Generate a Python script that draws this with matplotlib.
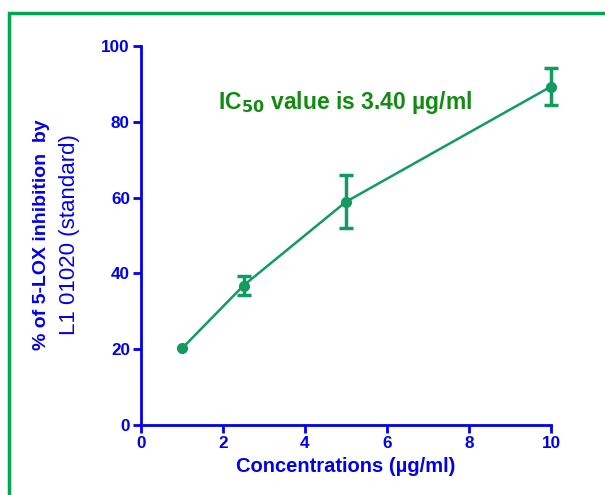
import matplotlib.pyplot as plt
from matplotlib.patches import Rectangle

plt.rcParams['font.family'] = ['Liberation Sans', 'DejaVu Sans']

# Data
conc = [1, 2.5, 5, 10]
inhibition = [20.2, 36.8, 58.9, 89.3]
err = [0, 2.5, 7.0, 4.9]
xticks = [0, 2, 4, 6, 8, 10]
yticks = [0, 20, 40, 60, 80, 100]

blue = '#0000ee'
line_green = '#139a62'
text_green = '#148a14'

fig = plt.figure(figsize=(6.05, 4.95), dpi=100)
fig.patches.append(Rectangle((9 / 605, -0.1), 1.2, 1 - 13 / 495 + 0.1,
                             transform=fig.transFigure, fill=False,
                             edgecolor='#00a651', linewidth=2.5))

ax = fig.add_axes([141 / 605, 70 / 495, 410 / 605, 379 / 495])
ax.plot(conc, inhibition, color=line_green, marker='o', markersize=7,
        linewidth=1.8, clip_on=False, zorder=3)
# error bars only where there is a spread
ex = [c for c, e in zip(conc, err) if e > 0]
ey = [v for v, e in zip(inhibition, err) if e > 0]
ee = [e for e in err if e > 0]
ax.errorbar(ex, ey, yerr=ee, fmt='none', ecolor=line_green, elinewidth=2.5,
            capsize=5, capthick=2.5, clip_on=False, zorder=3)

ax.set_xlim(0, 10)
ax.set_ylim(0, 100)
ax.set_xticks(xticks)
ax.set_yticks(yticks)
for s in ['top', 'right']:
    ax.spines[s].set_visible(False)
for s in ['left', 'bottom']:
    ax.spines[s].set_color(blue)
    ax.spines[s].set_linewidth(2)
ax.tick_params(colors=blue, width=2, length=6, labelsize=12.3, pad=2)
for lab in ax.get_xticklabels() + ax.get_yticklabels():
    lab.set_fontweight('bold')

ax.set_xlabel('Concentrations (µg/ml)', color=blue, fontsize=14.5,
              fontweight='bold', labelpad=4)

fig.text(42 / 605, 1 - 235 / 495, '% of 5-LOX inhibition  by', rotation=90,
         color=blue, fontsize=14, fontweight='bold', ha='center', va='center')
fig.text(70 / 605, 1 - 235 / 495, 'L1 01020 (standard)', rotation=90,
         color=blue, fontsize=16, ha='center', va='center')

ax.text(1.88, 85, r'IC$_{\mathbf{50}}$ value is 3.40 µg/ml', color=text_green,
        fontsize=16.5, fontweight='bold', va='center', ha='left')

fig.savefig('out.png', dpi=100)
